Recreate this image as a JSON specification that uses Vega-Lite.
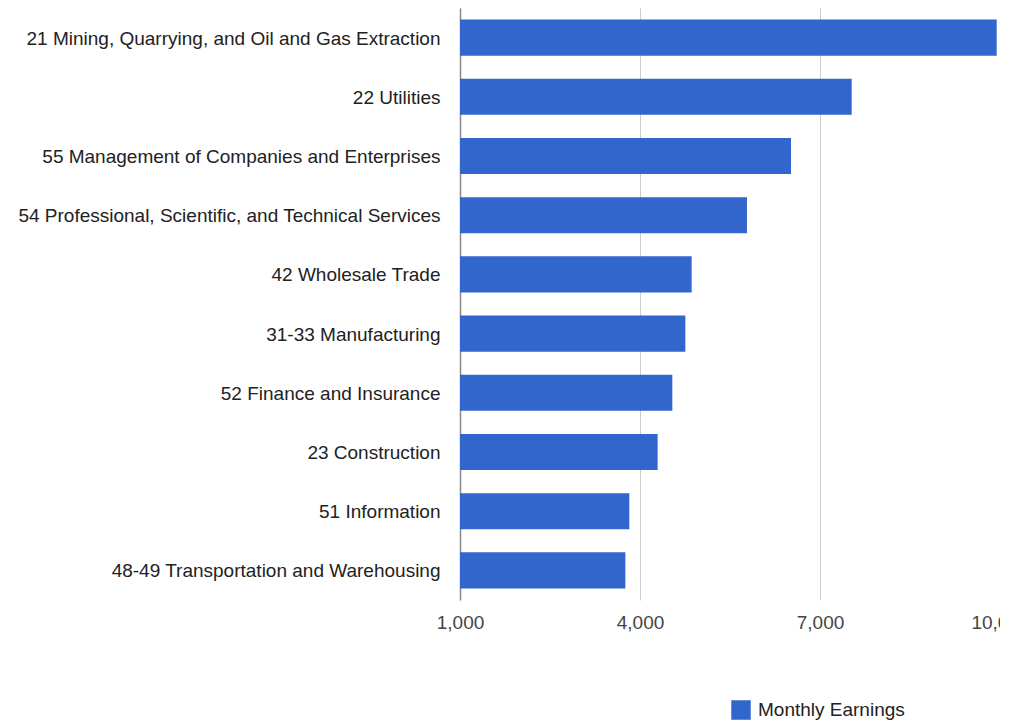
{
  "$schema": "https://vega.github.io/schema/vega-lite/v6.json",
  "autosize": {"type": "none"},
  "width": 540,
  "height": 592,
  "padding": {"left": 460, "top": 8, "right": 0, "bottom": 121},
  "background": "white",
  "config": {"view": {"stroke": null}, "font": "Liberation Sans"},
  "data": {
    "values": [
      {"industry": "21 Mining, Quarrying, and Oil and Gas Extraction", "earnings": 9945, "series": "Monthly Earnings"},
      {"industry": "22 Utilities", "earnings": 7528, "series": "Monthly Earnings"},
      {"industry": "55 Management of Companies and Enterprises", "earnings": 6517, "series": "Monthly Earnings"},
      {"industry": "54 Professional, Scientific, and Technical Services", "earnings": 5783, "series": "Monthly Earnings"},
      {"industry": "42 Wholesale Trade", "earnings": 4861, "series": "Monthly Earnings"},
      {"industry": "31-33 Manufacturing", "earnings": 4756, "series": "Monthly Earnings"},
      {"industry": "52 Finance and Insurance", "earnings": 4539, "series": "Monthly Earnings"},
      {"industry": "23 Construction", "earnings": 4294, "series": "Monthly Earnings"},
      {"industry": "51 Information", "earnings": 3822, "series": "Monthly Earnings"},
      {"industry": "48-49 Transportation and Warehousing", "earnings": 3756, "series": "Monthly Earnings"}
    ]
  },
  "mark": {"type": "bar"},
  "encoding": {
    "y": {
      "field": "industry",
      "type": "nominal",
      "sort": null,
      "scale": {"paddingInner": 0.39, "paddingOuter": 0.195},
      "axis": {
        "title": null,
        "ticks": false,
        "tickSize": 0,
        "labelPadding": 20,
        "labelFontSize": 19,
        "labelColor": "#222222",
        "labelOffset": 1,
        "domainColor": "#888888",
        "domainWidth": 1.5,
        "labelLimit": 600,
        "grid": false
      }
    },
    "x": {
      "field": "earnings",
      "type": "quantitative",
      "scale": {"domain": [1000, 10000], "zero": false, "nice": false},
      "axis": {
        "title": null,
        "values": [1000, 4000, 7000, 10000],
        "format": ",d",
        "ticks": false,
        "tickSize": 0,
        "domain": false,
        "labelPadding": 13,
        "labelFontSize": 19,
        "labelColor": "#444444",
        "gridColor": {"condition": {"test": "datum.value >= 10000", "value": "transparent"}, "value": "#cccccc"},
        "labelFlush": false,
        "labelOverlap": false
      }
    },
    "x2": {"datum": 1000},
    "color": {
      "field": "series",
      "type": "nominal",
      "scale": {"range": ["#3366cc"]},
      "legend": {
        "title": null,
        "orient": "none",
        "legendX": 271,
        "legendY": 692,
        "symbolType": "square",
        "symbolSize": 380,
        "symbolStrokeWidth": 0,
        "labelFontSize": 19,
        "labelColor": "#222222",
        "labelOffset": 7,
        "padding": 0
      }
    }
  }
}
